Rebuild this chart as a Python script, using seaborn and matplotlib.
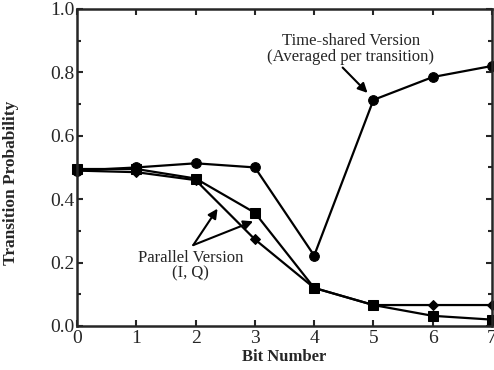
import matplotlib
matplotlib.use("Agg")
import matplotlib.pyplot as plt
import seaborn as sns
import pandas as pd
from matplotlib.ticker import MultipleLocator

bits = [0, 1, 2, 3, 4, 5, 6, 7]
time_shared = [0.49, 0.50, 0.513, 0.50, 0.222, 0.713, 0.785, 0.82]
parallel_i = [0.49, 0.485, 0.46, 0.273, 0.12, 0.066, 0.066, 0.066]
parallel_q = [0.495, 0.495, 0.465, 0.357, 0.12, 0.066, 0.032, 0.02]
x_ticks = [0, 1, 2, 3, 4, 5, 6, 7]
y_ticks = [0.0, 0.2, 0.4, 0.6, 0.8, 1.0]

rows = []
for name, vals in [("Time-shared", time_shared), ("Parallel I", parallel_i), ("Parallel Q", parallel_q)]:
    for b, v in zip(bits, vals):
        rows.append({"Bit": b, "P": v, "Series": name})
df = pd.DataFrame(rows)

sns.set_style("ticks")
plt.rcParams["font.family"] = ["Liberation Serif", "DejaVu Serif"]

fig = plt.figure(figsize=(4.94, 3.70), dpi=100)
ax = fig.add_axes([0.156, 0.119, 0.84, 0.857])

sns.lineplot(data=df, x="Bit", y="P", style="Series", hue="Series",
             palette={"Time-shared": "black", "Parallel I": "black", "Parallel Q": "black"},
             markers={"Time-shared": "o", "Parallel I": "D", "Parallel Q": "s"},
             dashes=False, markersize=7, linewidth=1.6, markeredgecolor="black",
             legend=False, ax=ax, clip_on=False)
for line in ax.lines:
    if line.get_marker() == "D":
        line.set_markersize(5)

ax.set_xlim(0, 7)
ax.set_ylim(0, 1.0)
ax.set_xticks(x_ticks)
ax.set_xticklabels([str(t) for t in x_ticks])
ax.set_yticks(y_ticks)
ax.set_yticklabels([f"{t:.1f}" for t in y_ticks])
ax.yaxis.set_minor_locator(MultipleLocator(0.1))
ax.tick_params(which="both", direction="in", top=True, right=True, labelsize=14, width=1.5)
ax.tick_params(which="major", length=4)
ax.tick_params(which="minor", length=3)
ax.tick_params(axis="x", pad=3)
ax.tick_params(axis="y", pad=2)
for s in ax.spines.values():
    s.set_linewidth(1.8)

ax.set_xlabel("Bit Number", fontsize=12, fontweight="bold", labelpad=1)
ax.set_ylabel("Transition Probability", fontsize=12.5, fontweight="bold")
ax.yaxis.set_label_coords(-0.14, 0.45)

arrow = dict(arrowstyle="-|>", color="black", lw=1.5, mutation_scale=14, shrinkA=0, shrinkB=0)
ax.text(4.62, 0.875, "Time-shared Version\n(Averaged per transition)", ha="center", va="center",
        fontsize=12, linespacing=1.0)
ax.annotate("", xy=(4.9, 0.735), xytext=(4.48, 0.815), arrowprops=arrow)

ax.text(1.92, 0.19, "Parallel Version\n(I, Q)", ha="center", va="center", fontsize=12, linespacing=1.0)
ax.annotate("", xy=(2.37, 0.37), xytext=(1.96, 0.255), arrowprops=arrow)
ax.annotate("", xy=(2.97, 0.33), xytext=(1.96, 0.255), arrowprops=arrow)

fig.savefig("out.png", dpi=100)
